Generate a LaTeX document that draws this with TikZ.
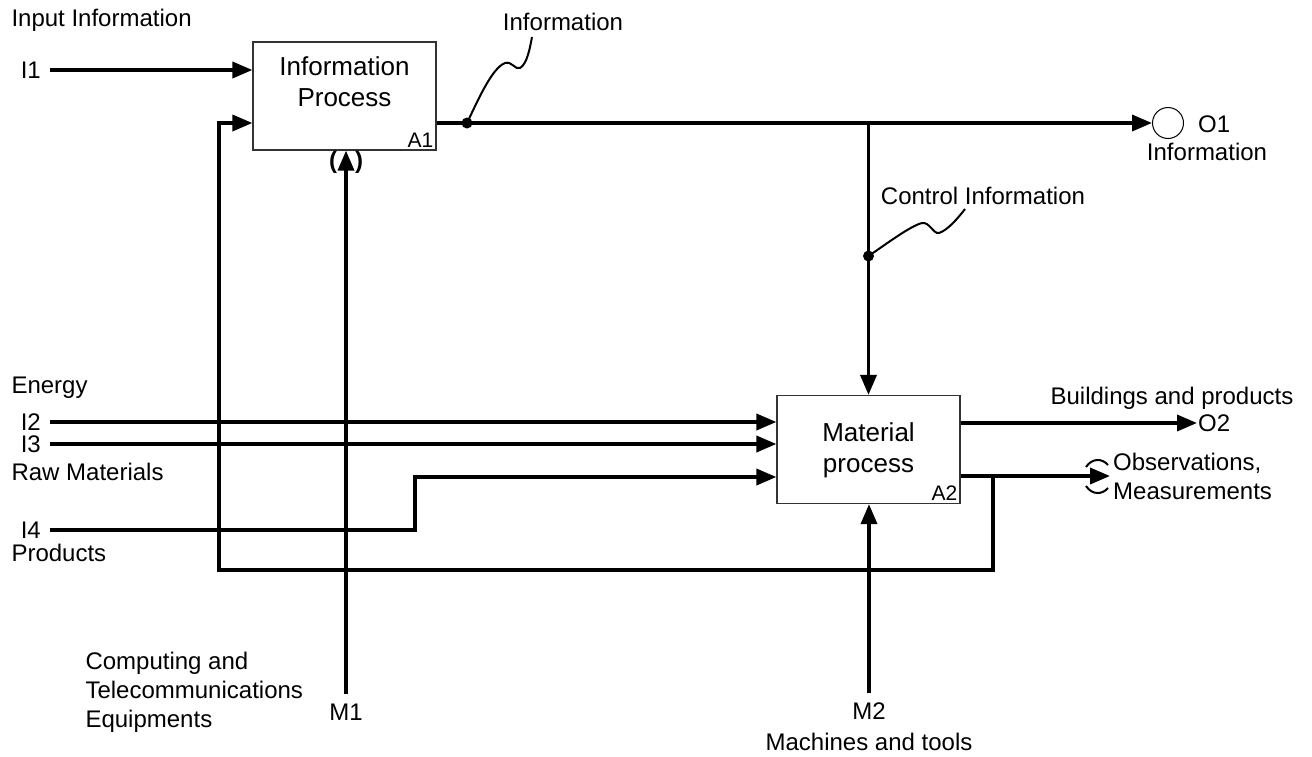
\documentclass[tikz,border=0pt]{standalone}
\usepackage{fontspec}
\setmainfont{Liberation Sans}
\usetikzlibrary{arrows.meta}

\tikzset{
  flow/.style={line width=3.6pt, -{Triangle[length=20pt,width=16pt]}},
  activity/.style={draw=black!80, line width=1.2pt, minimum width=183pt, minimum height=108pt, inner sep=0pt},
  junction/.style={circle, fill, inner sep=0pt, minimum size=11pt},
  squiggle/.style={line width=2pt},
  boxtext/.style={font=\fontsize{26}{31}\selectfont, align=center},
  boxid/.style={font=\fontsize{21}{24}\selectfont, anchor=south east, inner sep=3pt},
}

\begin{document}
\begin{tikzpicture}[x=1pt, y=-1pt, font=\fontsize{24}{29}\selectfont]
\useasboundingbox (0,0) rectangle (1312,756);

\begin{scope}[every node/.style={activity}]
\node (a1) at (344.5,96)  {};
\node (a2) at (868.5,449.5) {};
\end{scope}

\node[boxtext] (a1txt) at (344.5,82) {Information\\Process};
\node[boxtext] (a2txt) at (868.5,450) {Material\\process};
\node[boxid] (a1id) at (a1.south east) {A1};
\node[boxid] (a2id) at (a2.south east) {A2};

% inputs
\node[anchor=west] (inlbl) at (8,20) {Input Information};
\node[anchor=east, inner sep=1pt] (i1) at (42,70)  {I1};
\node[anchor=west] (enlbl) at (8,388) {Energy};
\node[anchor=east, inner sep=1pt] (i2) at (42,422) {I2};
\node[anchor=east, inner sep=1pt] (i3) at (42,444) {I3};
\node[anchor=west] (rawlbl) at (8,472) {Raw Materials};
\node[anchor=east, inner sep=1pt] (i4) at (42,530) {I4};
\node[anchor=west] (prodlbl) at (8,553) {Products};

% outputs
\node[circle, draw, line width=1pt, minimum size=31pt, inner sep=0pt] (o1) at (1168,123) {};
\node[anchor=west, inner sep=1pt] (o1id) at (1197,124) {O1};
\node (o1lbl) at (1207,152) {Information};
\node[anchor=west, inner sep=1pt] (o2) at (1197,423) {O2};
\node (o2lbl) at (1172,398) {Buildings and products};
\node[anchor=west, align=left, inner sep=0pt] (obs) at (1113,476) {Observations,\\Measurements};

% mechanisms
\node (m1) at (346,712) {M1};
\node[anchor=west, align=left] (m1lbl) at (82,692) {Computing and\\Telecommunications\\Equipments};
\node (m2) at (869,711) {M2};
\node[inner sep=1pt] (m2lbl) at (869,742) {Machines and tools};

\node[junction] (infodot) at (467,123) {};
\node[junction] (ctldot) at (868.5,256) {};
\node (infolbl) at (563,22) {Information};
\node (ctllbl) at (983,196) {Control Information};

\coordinate (ctlsplit) at (a2.north |- o1);
\coordinate (i4step) at (415,477);
\coordinate (fbout) at (993,476);
\coordinate (fbcorner) at (219,570);

\draw[flow] ([xshift=8pt]i1.east) -- (a1.west |- i1);
\draw[flow] (a1.east |- o1) -- (o1.west);
\draw[flow] (ctlsplit) -- (a2.north);

\draw[flow] ([xshift=8pt]i2.east) -- (a2.west |- i2);
\draw[flow] ([xshift=8pt]i3.east) -- (a2.west |- i3);
\draw[flow] ([xshift=8pt]i4.east) -| (i4step) -- (a2.west |- i4step);

\draw[flow] (a2.east |- o2) -- (o2.west);
\draw[flow] (a2.east |- obs.west) -- ([xshift=-3pt]obs.west);
\draw[flow] (fbout) |- (fbcorner) |- (a1.west |- infodot);

\draw[flow] ([yshift=6pt]m1.north) -- (a1.south -| m1);
\draw[flow] ([yshift=6pt]m2.north) -- (a2.south -| m2);

% tunnelled ends
\node[font=\bfseries\fontsize{24}{28}\selectfont, inner sep=0pt] (tunl) at (333,162) {(};
\node[font=\bfseries\fontsize{24}{28}\selectfont, inner sep=0pt] (tunr) at (359,162) {)};
\draw[squiggle] (1086,467) .. controls (1092,458) and (1102,458) .. (1108,465);
\draw[squiggle] (1086,486) .. controls (1092,495) and (1102,495) .. (1108,488);

% label leaders
\draw[squiggle] (infodot.center) .. controls (478,100) and (492,68) .. (505,63)
  .. controls (512,61) and (515,70) .. (520,68) .. controls (527,64) and (530,48) .. (532,37);
\draw[squiggle] (ctldot.center) .. controls (885,245) and (910,226) .. (922,223)
  .. controls (930,222) and (933,234) .. (939,233) .. controls (948,230) and (958,218) .. (965,209);
\end{tikzpicture}
\end{document}
